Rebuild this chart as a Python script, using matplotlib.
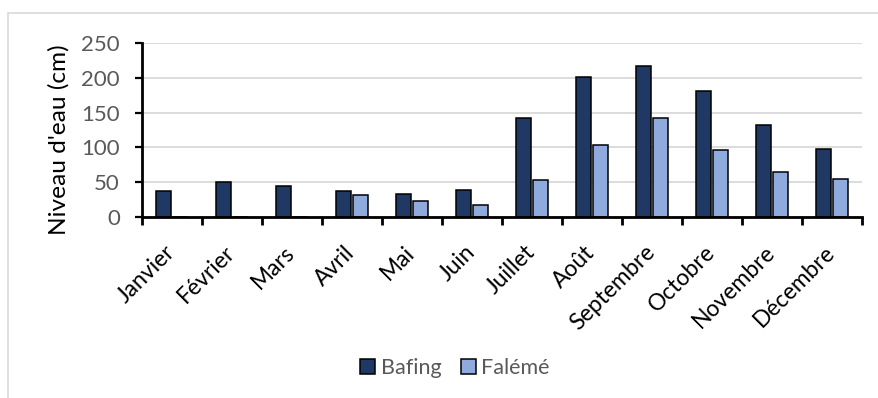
import matplotlib
matplotlib.use("Agg")
import matplotlib.pyplot as plt
import matplotlib.transforms as mtransforms
import numpy as np
from matplotlib.patches import Rectangle

months = ["Janvier", "Février", "Mars", "Avril", "Mai", "Juin", "Juillet",
          "Août", "Septembre", "Octobre", "Novembre", "Décembre"]
bafing = [37, 50, 45, 37, 33, 38, 142, 202, 218, 181, 133, 97]
faleme = [0, 0, 0, 32, 22, 17, 53, 103, 143, 96, 65, 55]
yticks = [0, 50, 100, 150, 200, 250]

W, H = 879, 398
fig = plt.figure(figsize=(W / 100, H / 100), dpi=100)
plt.rcParams["font.family"] = ["Lato", "DejaVu Sans"]

# outer chart frame
fig.patches.append(Rectangle((8 / W, -0.05), 1.1, (H - 13) / H + 0.05,
                             transform=fig.transFigure, fill=False,
                             edgecolor="#D9D9D9", linewidth=1.2, zorder=0))

ax = fig.add_axes([142 / W, (H - 216.7) / H, 720 / W, 173.3 / H])
x = np.arange(len(months))
bw = 0.25
off = 0.142
ax.bar(x - off, bafing, bw, color="#203864", edgecolor="black",
       linewidth=1.1, label="Bafing", zorder=3)
ax.bar(x + off, faleme, bw, color="#8FAADC", edgecolor="black",
       linewidth=1.1, label="Falémé", zorder=3)

ax.set_xlim(-0.5, len(months) - 0.5)
ax.set_ylim(0, 250)
ax.set_yticks(yticks)
ax.yaxis.grid(True, color="#D9D9D9", linewidth=1.3, zorder=0)
ax.set_axisbelow(True)
for s in ["top", "right"]:
    ax.spines[s].set_visible(False)
for s in ["left", "bottom"]:
    ax.spines[s].set_linewidth(2)
    ax.spines[s].set_color("black")
    ax.spines[s].set_zorder(4)

ax.tick_params(axis="y", direction="out", length=5, width=1.6,
               labelsize=16, labelcolor="#595959", pad=11)
ax.set_xticks(np.arange(len(months) + 1) - 0.5)
ax.set_xticklabels([])
ax.tick_params(axis="x", direction="out", length=6, width=2)

# rotated month labels, ending just under each category centre
shift = mtransforms.ScaledTranslation(-8 / 100, -25 / 100, fig.dpi_scale_trans)
trans = ax.get_xaxis_transform() + shift
for xi, m in zip(x, months):
    ax.text(xi, 0, m, transform=trans, rotation=45, ha="right", va="top",
            rotation_mode="anchor", fontsize=16.5, color="black")

ylab = ax.set_ylabel("Niveau d'eau (cm)", fontsize=18, color="black")
ax.yaxis.set_label_coords(-0.1, 0.443)
# size the axis title so it spans about 190 px
renderer = fig.canvas.get_renderer()
span = ylab.get_window_extent(renderer).height
ylab.set_fontsize(18 * 190 / span)

leg = fig.legend(loc="center", bbox_to_anchor=(455 / W, 1 - 368 / H),
                 ncol=2, frameon=False, fontsize=15.5, handlelength=0.7,
                 handleheight=0.7, handletextpad=0.25, columnspacing=0.9)
for t in leg.get_texts():
    t.set_color("#595959")

fig.savefig("out.png", dpi=100)
